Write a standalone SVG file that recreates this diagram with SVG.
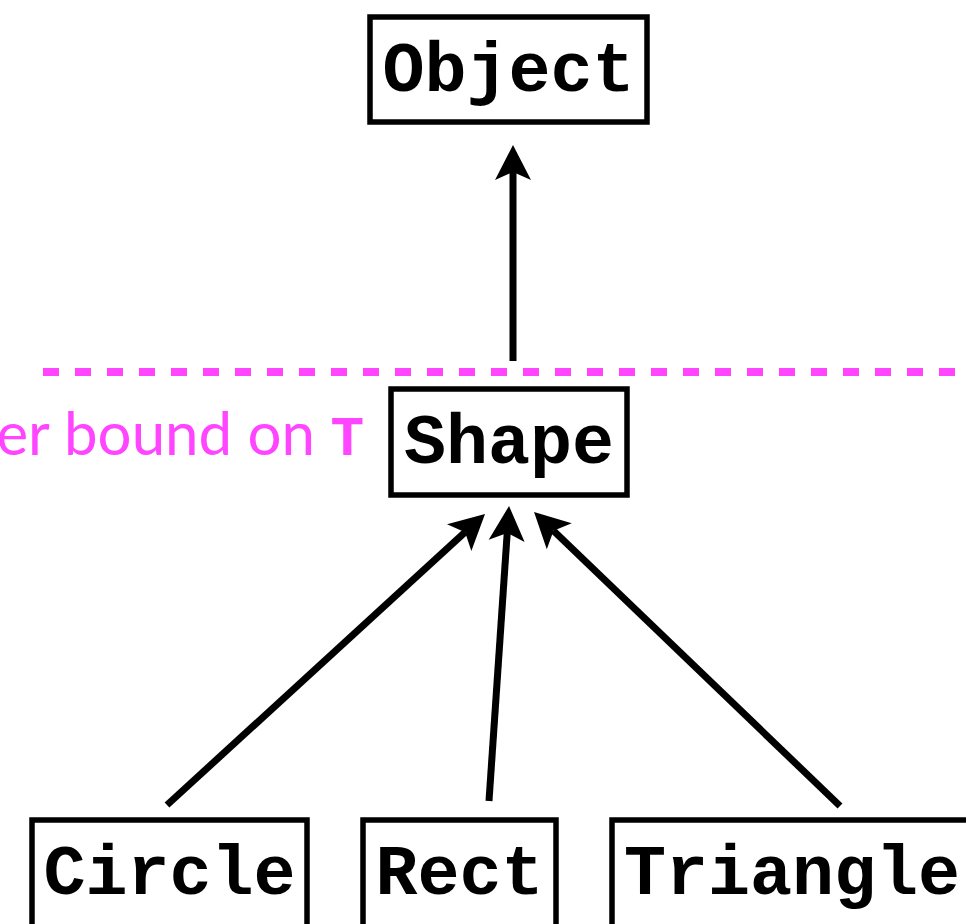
<svg xmlns="http://www.w3.org/2000/svg" width="966" height="924" viewBox="0 0 966 924">
  <style>
    .box { fill: #ffffff; stroke: #000000; stroke-width: 5.5; }
    .lbl { font-family: "Liberation Mono", "Courier New", monospace; font-weight: bold; font-size: 70px; fill: #000000; text-anchor: middle; }
    .edge { stroke: #000000; stroke-width: 7; fill: none; marker-end: url(#ah); }
    .bound { stroke: #ff45ff; stroke-width: 8; stroke-dasharray: 16 16; fill: none; }
    .btxt { fill: #ff45ff; text-anchor: end; }
  </style>
  <defs>
    <marker id="ah" markerUnits="userSpaceOnUse" viewBox="-10 -20 40 40" refX="0" refY="0" markerWidth="40" markerHeight="40" orient="auto" overflow="visible">
      <path d="M27,0 L-8,-18 L0,0 L-8,18 Z" fill="#000000"/>
    </marker>
  </defs>
  <rect width="966" height="924" fill="#ffffff"/>

  <g id="bound-line">
    <line class="bound" x1="43" y1="372" x2="955" y2="372"/>
    <text class="btxt" x="364" y="455"><tspan font-family="Lato, 'Noto Sans', sans-serif" font-size="60">er bound on </tspan><tspan font-family="'Liberation Mono', 'Courier New', monospace" font-weight="bold" font-size="56">T</tspan></text>
  </g>

  <g id="connectors">
    <line class="edge" x1="513" y1="361" x2="513" y2="172"/>
    <line class="edge" x1="167" y1="805" x2="465.1" y2="532.2"/>
    <line class="edge" x1="489" y1="801" x2="507.2" y2="532.9"/>
    <line class="edge" x1="840" y1="806" x2="553.5" y2="530.7"/>
  </g>

  <g id="node-object">
    <rect class="box" x="370" y="17" width="277" height="105"/>
    <text class="lbl" x="508.5" y="91">Object</text>
  </g>
  <g id="node-shape">
    <rect class="box" x="391" y="389" width="236" height="106"/>
    <text class="lbl" x="509" y="463">Shape</text>
  </g>
  <g id="node-circle">
    <rect class="box" x="32" y="820" width="275" height="110"/>
    <text class="lbl" x="169.5" y="894">Circle</text>
  </g>
  <g id="node-rect">
    <rect class="box" x="363" y="820" width="193" height="110"/>
    <text class="lbl" x="459.5" y="894">Rect</text>
  </g>
  <g id="node-triangle">
    <rect class="box" x="612" y="820" width="360" height="110"/>
    <text class="lbl" x="792" y="894">Triangle</text>
  </g>
</svg>
